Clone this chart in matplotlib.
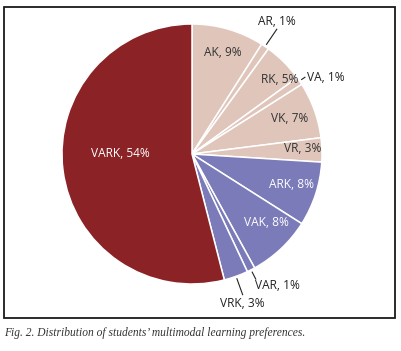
import numpy as np
import matplotlib
matplotlib.use('Agg')
import matplotlib.pyplot as plt
from matplotlib.patches import Rectangle

# data
labels = ['AK', 'AR', 'RK', 'VA', 'VK', 'VR', 'ARK', 'VAK', 'VAR', 'VRK', 'VARK']
values = [9, 1, 5, 1, 7, 3, 8, 8, 1, 3, 54]
groups = ['pair', 'pair', 'pair', 'pair', 'pair', 'pair', 'tri', 'tri', 'tri', 'tri', 'quad']

group_colors = {'pair': '#dfc5ba', 'tri': '#7b7bb9', 'quad': '#8a2226'}
text_colors = {'pair': '#333333', 'tri': 'white', 'quad': 'white'}

# label layout: (radius fraction, angle shift in deg) for inside labels,
# outside labels get a leader line: (radius fraction, ha, va, dx, dy)
inside = {'AK': (0.82, -0.7), 'RK': (0.89, -4.6), 'VK': (0.80, 0.4), 'VR': (0.85, 0.8),
          'ARK': (0.80, 1.1), 'VAK': (0.78, 4.2), 'VARK': (0.55, -7.2)}
outside = {'AR': (1.16, 'center', 'bottom', 0, 1), 'VA': (1.05, 'left', 'center', 2, 0),
           'VAR': (1.08, 'left', 'top', -1, 0), 'VRK': (1.15, 'center', 'top', 0, -2)}

W, H = 401, 351
fig = plt.figure(figsize=(W / 100, H / 100), dpi=100)
ax = fig.add_axes([0, 0, 1, 1])

cx, cy, R = 192, H - 154, 130
font = 'Open Sans'

wedges, _ = ax.pie(values, colors=[group_colors[g] for g in groups], startangle=90,
                   counterclock=False, center=(cx, cy), radius=R, frame=True,
                   wedgeprops=dict(edgecolor='white', linewidth=1.1))
ax.set_xlim(0, W)
ax.set_ylim(0, H)
ax.set_aspect('equal')
ax.axis('off')

for w, lab, v, g in zip(wedges, labels, values, groups):
    mid = np.deg2rad((w.theta1 + w.theta2) / 2)
    txt = '%s, %d%%' % (lab, v)
    if lab in inside:
        fr, sh = inside[lab]
        a = mid + np.deg2rad(sh)
        ax.text(cx + fr * R * np.cos(a), cy + fr * R * np.sin(a), txt, ha='center', va='center',
                fontsize=8.6, family=font, color=text_colors[g])
    else:
        r2, ha, va, dx, dy = outside[lab]
        x1, y1 = cx + 1.02 * R * np.cos(mid), cy + 1.02 * R * np.sin(mid)
        x2, y2 = cx + r2 * R * np.cos(mid), cy + r2 * R * np.sin(mid)
        ax.plot([x1, x2], [y1, y2], color='#222222', lw=0.8)
        ax.text(x2 + dx, y2 + dy, txt, ha=ha, va=va, fontsize=8.6, family=font, color='#222222')

# frame box
ax.add_patch(Rectangle((4, H - 318), 390.5, 311, fill=False, edgecolor='#1a1a1a', lw=1.3))

ax.text(4, H - 333, "Fig. 2. Distribution of students\u2019 multimodal learning preferences.",
        ha='left', va='center', fontsize=8.3, family='Liberation Serif', style='italic',
        color='#333333')

fig.savefig('out.png', dpi=100)
